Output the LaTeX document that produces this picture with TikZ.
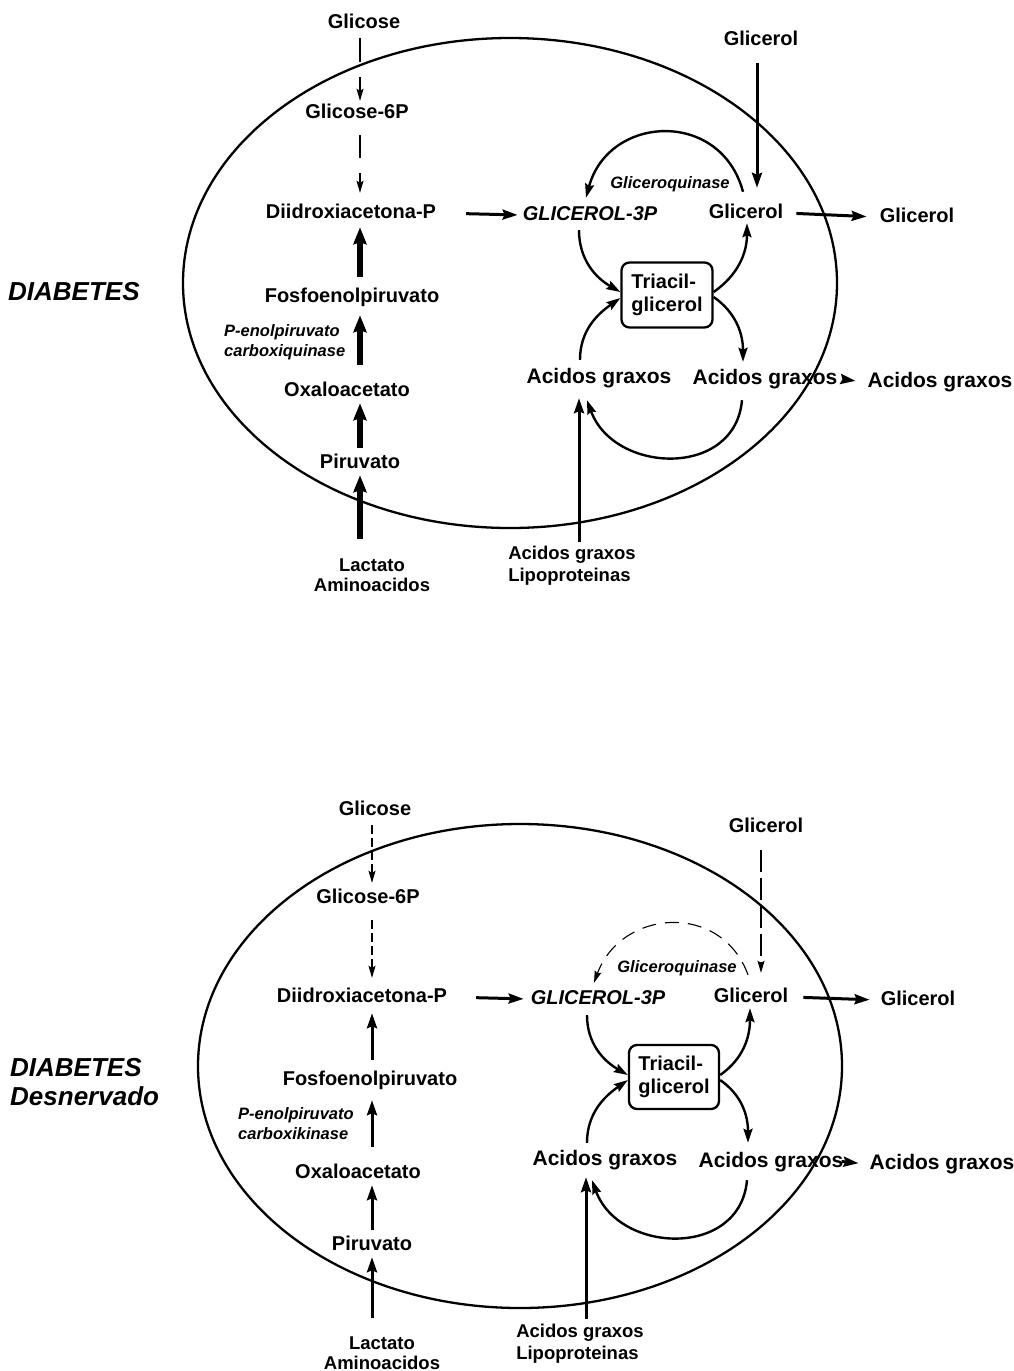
\documentclass[tikz,border=0pt]{standalone}
\usepackage{fontspec}
\setmainfont{Liberation Sans}
\usetikzlibrary{arrows.meta}

\tikzset{
  lbl/.style={font=\fontsize{20}{23}\selectfont\bfseries, text height=14pt, text depth=4pt, inner sep=3pt},
  acid/.style={lbl, font=\fontsize{21}{23}\selectfont\bfseries},
  ital/.style={lbl, font=\fontsize{20}{23}\selectfont\bfseries\itshape},
  enz/.style={font=\fontsize{16.5}{20}\selectfont\bfseries\itshape, align=left, inner sep=2pt},
  src/.style={font=\fontsize{18.5}{19.5}\selectfont\bfseries, align=center, inner sep=2pt},
  srcl/.style={src, align=left, font=\fontsize{18.5}{22}\selectfont\bfseries},
  tag/.style={font=\fontsize{26}{29}\selectfont\bfseries\itshape, align=left, inner sep=0pt},
  tgbox/.style={draw, line width=2.3pt, rounded corners=8pt, font=\fontsize{20}{23}\selectfont\bfseries, align=left, minimum width=91pt, minimum height=65pt, inner sep=0pt},
  cell/.style={line width=2.3pt},
  heavy/.style={line width=5.5pt, -{Stealth[length=17pt,width=13pt,inset=2pt]}},
  plain/.style={line width=3pt, -{Stealth[length=15pt,width=10pt,inset=2pt]}},
  curve/.style={line width=2.4pt, -{Stealth[length=14pt,width=9pt,inset=2pt]}},
  faint/.style={line width=1.1pt, -{Stealth[length=12pt,width=7pt,inset=2pt]}},
}

\begin{document}
\begin{tikzpicture}[x=1pt,y=1pt]
\fill[white] (0,0) rectangle (1014,-1371);
\useasboundingbox (0,0) rectangle (1014,-1371);

\coordinate (colA) at (360,0);
\coordinate (colB) at (757,0);
\coordinate (colC) at (579,0);
\draw[cell] (510,-283) ellipse [x radius=327, y radius=245];
\node (diabA) at (8,-292) [tag, anchor=west] {DIABETES};
\node (glcA) at (364,-23) [lbl] {Glicose};
\node (g6pA) at (357,-113) [lbl] {Glicose-6P};
\node (dhapA) at (351,-213) [lbl] {Diidroxiacetona-P};
\node (pepA) at (352,-297) [lbl] {Fosfoenolpiruvato};
\node (pepckA) at (222,-342) [enz, anchor=west] {P-enolpiruvato\\carboxiquinase};
\node (oaaA) at (347,-391) [lbl] {Oxaloacetato};
\node (pyrA) at (360,-463) [lbl] {Piruvato};
\node (lacA) at (372,-575) [src] {Lactato\\Aminoacidos};
\node (ffaA) at (572,-566) [srcl] {Acidos graxos\\Lipoproteinas};
\node (g3pA) at (590,-215) [ital] {GLICEROL-3P};
\node (glyA) at (746,-213) [lbl] {Glicerol};
\node (glyoutA) at (917,-217) [lbl] {Glicerol};
\node (glyinA) at (761,-40) [lbl] {Glicerol};
\node (gkA) at (670,-184) [enz] {Gliceroquinase};
\node (tagA) at (667,-295) [tgbox] {Triacil-\\glicerol};
\node (fa1A) at (599,-378) [acid] {Acidos graxos};
\node (fa2A) at (765,-379) [acid] {Acidos graxos};
\node (faoutA) at (940,-382) [acid] {Acidos graxos};

\draw[faint, dash pattern=on 24pt off 15pt, shorten <=3pt] (glcA.south -| colA) -- (g6pA.north -| colA);
\draw[faint, dash pattern=on 23pt off 15pt, shorten <=10pt, shorten >=8pt] (g6pA.south -| colA) -- (dhapA.north -| colA);
\draw[heavy, shorten <=8pt, shorten >=2pt] (pepA.north -| colA) -- (dhapA.south -| colA);
\draw[heavy, shorten <=14pt, shorten >=6pt] (oaaA.north -| colA) -- (pepA.south -| colA);
\draw[heavy, shorten <=3pt] (pyrA.north -| colA) -- (oaaA.south -| colA);
\draw[heavy, line width=6pt, shorten <=18pt] (lacA.north -| colA) -- (pyrA.south -| colA);
\draw[plain, shorten <=27pt, shorten >=2pt] (dhapA.east) -- (g3pA.west);
\draw[plain, shorten <=10pt, shorten >=10pt] (glyA.east) -- (glyoutA.west);
\draw[plain, shorten <=11pt, shorten >=13pt] (glyinA.south -| colB) -- (glyA.north -| colB);
\draw[curve] ([shift={(-3pt,9pt)}]glyA.north) to[out=105, in=75, looseness=1.4] ([shift={(-4pt,5pt)}]g3pA.north);
\draw[curve] ([shift={(-11pt,-3pt)}]g3pA.south) to[out=-90, in=150] ([yshift=3pt]tagA.west);
\draw[curve] ([shift={(-19pt,6pt)}]fa1A.north) to[out=90, in=-145] ([yshift=-3pt]tagA.west);
\draw[curve] ([yshift=3pt]tagA.east) to[out=35, in=-90] ([shift={(1pt,2pt)}]glyA.south);
\draw[curve] ([yshift=-2pt]tagA.east) to[out=-35, in=90] ([shift={(-22pt,5pt)}]fa2A.north);
\draw[curve] ([shift={(-23pt,-9pt)}]fa2A.south) to[out=-95, in=-70, looseness=1.3] ([shift={(-12pt,-10pt)}]fa1A.south);
\draw[plain, shorten <=2pt, shorten >=9pt] (fa2A.east) -- (faoutA.west);
\draw[plain, shorten <=2pt, shorten >=8pt] (ffaA.north -| colC) -- (fa1A.south -| colC);

\coordinate (colD) at (372,0);
\coordinate (colE) at (761,0);
\coordinate (colF) at (586,0);
\draw[cell] (520,-1066) ellipse [x radius=322, y radius=242];
\node (diabB) at (10,-1082) [tag, anchor=west] {DIABETES\\Desnervado};
\node (glcB) at (375,-810) [lbl] {Glicose};
\node (g6pB) at (368,-898) [lbl] {Glicose-6P};
\node (dhapB) at (362,-997) [lbl] {Diidroxiacetona-P};
\node (pepB) at (370,-1080) [lbl] {Fosfoenolpiruvato};
\node (pepckB) at (236,-1124) [enz, anchor=west] {P-enolpiruvato\\carboxikinase};
\node (oaaB) at (358,-1173) [lbl] {Oxaloacetato};
\node (pyrB) at (372,-1245) [lbl] {Piruvato};
\node (lacB) at (382,-1353) [src] {Lactato\\Aminoacidos};
\node (ffaB) at (580,-1344) [srcl] {Acidos graxos\\Lipoproteinas};
\node (g3pB) at (598,-999) [ital] {GLICEROL-3P};
\node (glyB) at (751,-997) [lbl] {Glicerol};
\node (glyoutB) at (918,-1000) [lbl] {Glicerol};
\node (glyinB) at (766,-827) [lbl] {Glicerol};
\node (gkB) at (677,-968) [enz] {Gliceroquinase};
\node (tagB) at (674,-1077) [tgbox, minimum width=90pt, minimum height=64pt] {Triacil-\\glicerol};
\node (fa1B) at (605,-1160) [acid] {Acidos graxos};
\node (fa2B) at (771,-1162) [acid] {Acidos graxos};
\node (faoutB) at (942,-1164) [acid] {Acidos graxos};

\draw[faint, dash pattern=on 9pt off 4pt, shorten <=3pt, shorten >=3pt] (glcB.south -| colD) -- (g6pB.north -| colD);
\draw[faint, dash pattern=on 9pt off 4pt, shorten <=10pt, shorten >=7pt] (g6pB.south -| colD) -- (dhapB.north -| colD);
\draw[plain, shorten <=8pt, shorten >=4pt] (pepB.north -| colD) -- (dhapB.south -| colD);
\draw[plain, shorten <=14pt, shorten >=8pt] (oaaB.north -| colD) -- (pepB.south -| colD);
\draw[plain, shorten <=3pt] (pyrB.north -| colD) -- (oaaB.south -| colD);
\draw[plain, shorten <=17pt] (lacB.north -| colD) -- (pyrB.south -| colD);
\draw[plain, shorten <=26pt, shorten >=4pt] (dhapB.east) -- (g3pB.west);
\draw[plain, shorten <=12pt, shorten >=8pt] (glyB.east) -- (glyoutB.west);
\draw[faint, dash pattern=on 22pt off 6pt, shorten <=11pt, shorten >=12pt] (glyinB.south -| colE) -- (glyB.north -| colE);
\draw[faint, dash pattern=on 14pt off 9pt] ([shift={(-3pt,10pt)}]glyB.north) to[out=110, in=70, looseness=1.3] ([shift={(-4pt,4pt)}]g3pB.north);
\draw[curve] ([shift={(-11pt,-4pt)}]g3pB.south) to[out=-90, in=150] ([yshift=2pt]tagB.west);
\draw[curve] ([shift={(-18pt,5pt)}]fa1B.north) to[out=90, in=-145] ([yshift=-3pt]tagB.west);
\draw[curve] ([yshift=2pt]tagB.east) to[out=35, in=-90] ([shift={(-1pt,1pt)}]glyB.south);
\draw[curve] ([yshift=-3pt]tagB.east) to[out=-35, in=90] ([shift={(-23pt,7pt)}]fa2B.north);
\draw[curve] ([shift={(-24pt,-6pt)}]fa2B.south) to[out=-95, in=-70, looseness=1.3] ([shift={(-13pt,-8pt)}]fa1B.south);
\draw[plain, shorten <=5pt, shorten >=8pt] (fa2B.east) -- (faoutB.west);
\draw[plain, shorten <=3pt, shorten >=5pt] (ffaB.north -| colF) -- (fa1B.south -| colF);
\end{tikzpicture}
\end{document}
